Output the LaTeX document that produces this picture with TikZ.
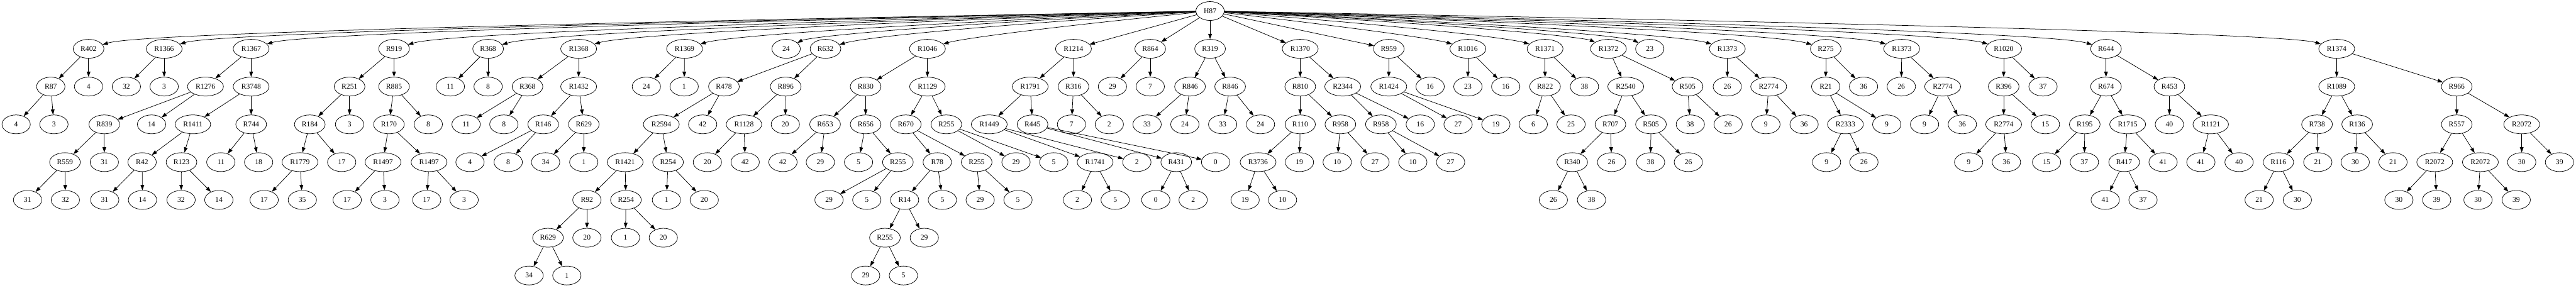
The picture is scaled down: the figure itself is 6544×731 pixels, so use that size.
\documentclass[tikz,border=0pt]{standalone}
\usepackage{fontspec}
\setmainfont{Liberation Serif}
\usepackage{tikz}
\usetikzlibrary{arrows.meta,shapes.geometric}

\begin{document}
\begin{tikzpicture}[x=0.75pt,y=-0.75pt,>={Triangle[length=10pt,width=7pt]}]
    \tikzstyle{rnode}=[ellipse,draw,line width=0.9pt,minimum width=54pt,minimum height=36pt,inner xsep=5.5pt,inner ysep=2pt,font=\fontsize{14pt}{16pt}\selectfont]  % 椭圆节点
    \tikzstyle{edge}=[->,line width=0.9pt]  % 连线
    \useasboundingbox (0,0) rectangle (6544,731);

    % 根
    \node[rnode](H87) at (3074,28){H87};
    % 第一层
    \node[rnode](R402) at (225,124){R402};
    \node[rnode](R1366) at (417,124){R1366};
    \node[rnode](R1367) at (638,124){R1367};
    \node[rnode](R919) at (1001,124){R919};
    \node[rnode](R368) at (1240,124){R368};
    \node[rnode](R1368) at (1470,124){R1368};
    \node[rnode](R1369) at (1739,124){R1369};
    \node[rnode](H87_24) at (1997,124){24};
    \node[rnode](R632) at (2097,124){R632};
    \node[rnode](R1046) at (2356,124){R1046};
    \node[rnode](R1214) at (2727,124){R1214};
    \node[rnode](R864) at (2922,124){R864};
    \node[rnode](R319) at (3074,124){R319};
    \node[rnode](R1370) at (3303,124){R1370};
    \node[rnode](R959) at (3528,124){R959};
    \node[rnode](R1016) at (3729,124){R1016};
    \node[rnode](R1371) at (3925,124){R1371};
    \node[rnode](R1372) at (4086,124){R1372};
    \node[rnode](H87_23) at (4191,124){23};
    \node[rnode](R1373a) at (4388,124){R1373};
    \node[rnode](R275) at (4638,124){R275};
    \node[rnode](R1373b) at (4831,124){R1373};
    \node[rnode](R1020) at (5090,124){R1020};
    \node[rnode](R644) at (5350,124){R644};
    \node[rnode](R1374) at (5936,124){R1374};
    % 第二层
    \node[rnode](R87) at (129,220){R87};
    \node[rnode](R402_4) at (225,220){4};
    \node[rnode](R1366_32) at (321,220){32};
    \node[rnode](R1366_3) at (417,220){3};
    \node[rnode](R1276) at (522,220){R1276};
    \node[rnode](R3748) at (638,220){R3748};
    \node[rnode](R251) at (888,220){R251};
    \node[rnode](R885) at (1001,220){R885};
    \node[rnode](R368_11) at (1144,220){11};
    \node[rnode](R368_8) at (1240,220){8};
    \node[rnode](R368b) at (1340,220){R368};
    \node[rnode](R1432) at (1470,220){R1432};
    \node[rnode](R1369_24) at (1642,220){24};
    \node[rnode](R1369_1) at (1738,220){1};
    \node[rnode](R478) at (1839,220){R478};
    \node[rnode](R896) at (1996,220){R896};
    \node[rnode](R830) at (2199,220){R830};
    \node[rnode](R1129) at (2356,220){R1129};
    \node[rnode](R1791) at (2617,220){R1791};
    \node[rnode](R316) at (2727,220){R316};
    \node[rnode](R864_29) at (2826,220){29};
    \node[rnode](R864_7) at (2922,220){7};
    \node[rnode](R846a) at (3023,220){R846};
    \node[rnode](R846b) at (3125,220){R846};
    \node[rnode](R810) at (3303,220){R810};
    \node[rnode](R2344) at (3411,220){R2344};
    \node[rnode](R1424) at (3528,220){R1424};
    \node[rnode](R959_16) at (3633,220){16};
    \node[rnode](R1016_23) at (3729,220){23};
    \node[rnode](R1016_16) at (3825,220){16};
    \node[rnode](R822) at (3925,220){R822};
    \node[rnode](R1371_38) at (4025,220){38};
    \node[rnode](R2540) at (4130,220){R2540};
    \node[rnode](R505a) at (4287,220){R505};
    \node[rnode](R1373a_26) at (4388,220){26};
    \node[rnode](R2774a) at (4493,220){R2774};
    \node[rnode](R21) at (4638,220){R21};
    \node[rnode](R275_36) at (4734,220){36};
    \node[rnode](R1373b_26) at (4830,220){26};
    \node[rnode](R2774b) at (4935,220){R2774};
    \node[rnode](R396) at (5090,220){R396};
    \node[rnode](R1020_37) at (5190,220){37};
    \node[rnode](R674) at (5350,220){R674};
    \node[rnode](R453) at (5511,220){R453};
    \node[rnode](R1089) at (5936,220){R1089};
    \node[rnode](R966) at (6241,220){R966};
    % 第三层
    \node[rnode](R87_4) at (41,316){4};
    \node[rnode](R87_3) at (137,316){3};
    \node[rnode](R839) at (265,316){R839};
    \node[rnode](R1276_14) at (385,316){14};
    \node[rnode](R1411) at (490,316){R1411};
    \node[rnode](R744) at (638,316){R744};
    \node[rnode](R184) at (787,316){R184};
    \node[rnode](R251_3) at (888,316){3};
    \node[rnode](R170) at (988,316){R170};
    \node[rnode](R885_8) at (1088,316){8};
    \node[rnode](R368b_11) at (1184,316){11};
    \node[rnode](R368b_8) at (1280,316){8};
    \node[rnode](R146) at (1380,316){R146};
    \node[rnode](R629a) at (1483,316){R629};
    \node[rnode](R2594) at (1680,316){R2594};
    \node[rnode](R478_42) at (1785,316){42};
    \node[rnode](R1128) at (1890,316){R1128};
    \node[rnode](R896_20) at (1995,316){20};
    \node[rnode](R653) at (2096,316){R653};
    \node[rnode](R656) at (2199,316){R656};
    \node[rnode](R670) at (2301,316){R670};
    \node[rnode](R255b) at (2404,316){R255};
    \node[rnode](R1449) at (2513,316){R1449};
    \node[rnode](R445) at (2623,316){R445};
    \node[rnode](R316_7) at (2722,316){7};
    \node[rnode](R316_2) at (2818,316){2};
    \node[rnode](R846a_33) at (2914,316){33};
    \node[rnode](R846a_24) at (3010,316){24};
    \node[rnode](R846b_33) at (3106,316){33};
    \node[rnode](R846b_24) at (3202,316){24};
    \node[rnode](R110) at (3303,316){R110};
    \node[rnode](R958a) at (3405,316){R958};
    \node[rnode](R958b) at (3508,316){R958};
    \node[rnode](R2344_16) at (3608,316){16};
    \node[rnode](R1424_27) at (3704,316){27};
    \node[rnode](R1424_19) at (3800,316){19};
    \node[rnode](R822_6) at (3895,316){6};
    \node[rnode](R822_25) at (3991,316){25};
    \node[rnode](R707) at (4091,316){R707};
    \node[rnode](R505b) at (4194,316){R505};
    \node[rnode](R505a_38) at (4294,316){38};
    \node[rnode](R505a_26) at (4390,316){26};
    \node[rnode](R2774a_9) at (4486,316){9};
    \node[rnode](R2774a_36) at (4583,316){36};
    \node[rnode](R2333) at (4688,316){R2333};
    \node[rnode](R21_9) at (4793,316){9};
    \node[rnode](R2774b_9) at (4889,316){9};
    \node[rnode](R2774b_36) at (4985,316){36};
    \node[rnode](R2774c) at (5090,316){R2774};
    \node[rnode](R396_15) at (5196,316){15};
    \node[rnode](R195) at (5296,316){R195};
    \node[rnode](R1715) at (5405,316){R1715};
    \node[rnode](R453_40) at (5511,316){40};
    \node[rnode](R1121) at (5616,316){R1121};
    \node[rnode](R738) at (5886,316){R738};
    \node[rnode](R136) at (5988,316){R136};
    \node[rnode](R557) at (6241,316){R557};
    \node[rnode](R2072a) at (6406,316){R2072};
    % 第四层
    \node[rnode](R559) at (165,412){R559};
    \node[rnode](R839_31) at (265,412){31};
    \node[rnode](R42) at (361,412){R42};
    \node[rnode](R123) at (461,412){R123};
    \node[rnode](R744_11) at (561,412){11};
    \node[rnode](R744_18) at (657,412){18};
    \node[rnode](R1779) at (762,412){R1779};
    \node[rnode](R184_17) at (868,412){17};
    \node[rnode](R1497a) at (973,412){R1497};
    \node[rnode](R1497b) at (1090,412){R1497};
    \node[rnode](R146_4) at (1194,412){4};
    \node[rnode](R146_8) at (1291,412){8};
    \node[rnode](R629a_34) at (1386,412){34};
    \node[rnode](R629a_1) at (1483,412){1};
    \node[rnode](R1421) at (1588,412){R1421};
    \node[rnode](R254b) at (1697,412){R254};
    \node[rnode](R1128_20) at (1797,412){20};
    \node[rnode](R1128_42) at (1893,412){42};
    \node[rnode](R653_42) at (1989,412){42};
    \node[rnode](R653_29) at (2084,412){29};
    \node[rnode](R656_5) at (2181,412){5};
    \node[rnode](R255a) at (2281,412){R255};
    \node[rnode](R78) at (2381,412){R78};
    \node[rnode](R255c) at (2481,412){R255};
    \node[rnode](R255b_29) at (2581,412){29};
    \node[rnode](R255b_5) at (2677,412){5};
    \node[rnode](R1741) at (2782,412){R1741};
    \node[rnode](R1449_2) at (2888,412){2};
    \node[rnode](R431) at (2988,412){R431};
    \node[rnode](R445_0) at (3088,412){0};
    \node[rnode](R3736) at (3196,412){R3736};
    \node[rnode](R110_19) at (3301,412){19};
    \node[rnode](R958a_10) at (3397,412){10};
    \node[rnode](R958a_27) at (3493,412){27};
    \node[rnode](R958b_10) at (3589,412){10};
    \node[rnode](R958b_27) at (3685,412){27};
    \node[rnode](R340) at (3994,412){R340};
    \node[rnode](R707_26) at (4094,412){26};
    \node[rnode](R505b_38) at (4193,412){38};
    \node[rnode](R505b_26) at (4289,412){26};
    \node[rnode](R2333_9) at (4640,412){9};
    \node[rnode](R2333_26) at (4735,412){26};
    \node[rnode](R2774c_9) at (5001,412){9};
    \node[rnode](R2774c_36) at (5097,412){36};
    \node[rnode](R195_15) at (5199,412){15};
    \node[rnode](R195_37) at (5295,412){37};
    \node[rnode](R417) at (5396,412){R417};
    \node[rnode](R1715_41) at (5495,412){41};
    \node[rnode](R1121_41) at (5591,412){41};
    \node[rnode](R1121_40) at (5688,412){40};
    \node[rnode](R116) at (5788,412){R116};
    \node[rnode](R738_21) at (5888,412){21};
    \node[rnode](R136_30) at (5983,412){30};
    \node[rnode](R136_21) at (6079,412){21};
    \node[rnode](R2072b) at (6185,412){R2072};
    \node[rnode](R2072c) at (6301,412){R2072};
    \node[rnode](R2072a_30) at (6406,412){30};
    \node[rnode](R2072a_39) at (6502,412){39};
    % 第五层
    \node[rnode](R559_31) at (70,508){31};
    \node[rnode](R559_32) at (166,508){32};
    \node[rnode](R42_31) at (266,508){31};
    \node[rnode](R42_14) at (362,508){14};
    \node[rnode](R123_32) at (460,508){32};
    \node[rnode](R123_14) at (556,508){14};
    \node[rnode](R1779_17) at (671,508){17};
    \node[rnode](R1779_35) at (768,508){35};
    \node[rnode](R1497a_17) at (882,508){17};
    \node[rnode](R1497a_3) at (978,508){3};
    \node[rnode](R1497b_17) at (1084,508){17};
    \node[rnode](R1497b_3) at (1179,508){3};
    \node[rnode](R92) at (1491,508){R92};
    \node[rnode](R254a) at (1590,508){R254};
    \node[rnode](R254b_1) at (1693,508){1};
    \node[rnode](R254b_20) at (1789,508){20};
    \node[rnode](R255a_29) at (2106,508){29};
    \node[rnode](R255a_5) at (2202,508){5};
    \node[rnode](R14) at (2298,508){R14};
    \node[rnode](R78_5) at (2394,508){5};
    \node[rnode](R255c_29) at (2490,508){29};
    \node[rnode](R255c_5) at (2586,508){5};
    \node[rnode](R1741_2) at (2737,508){2};
    \node[rnode](R1741_5) at (2833,508){5};
    \node[rnode](R431_0) at (2936,508){0};
    \node[rnode](R431_2) at (3031,508){2};
    \node[rnode](R3736_19) at (3163,508){19};
    \node[rnode](R3736_10) at (3258,508){10};
    \node[rnode](R340_26) at (3946,508){26};
    \node[rnode](R340_38) at (4043,508){38};
    \node[rnode](R417_41) at (5348,508){41};
    \node[rnode](R417_37) at (5444,508){37};
    \node[rnode](R116_21) at (5739,508){21};
    \node[rnode](R116_30) at (5836,508){30};
    \node[rnode](R2072b_30) at (6094,508){30};
    \node[rnode](R2072b_39) at (6190,508){39};
    \node[rnode](R2072c_30) at (6295,508){30};
    \node[rnode](R2072c_39) at (6392,508){39};
    % 第六层
    \node[rnode](R629b) at (1392,604){R629};
    \node[rnode](R92_20) at (1491,604){20};
    \node[rnode](R254a_1) at (1589,604){1};
    \node[rnode](R254a_20) at (1685,604){20};
    \node[rnode](R255d) at (2248,604){R255};
    \node[rnode](R14_29) at (2348,604){29};
    % 第七层
    \node[rnode](R629b_34) at (1344,700){34};
    \node[rnode](R629b_1) at (1440,700){1};
    \node[rnode](R255d_29) at (2199,700){29};
    \node[rnode](R255d_5) at (2295,700){5};

    % 开始画线,根的远处子节点用曲线
    \draw[edge](H87) .. controls (475,75) and (305,100) .. (R402);
    \draw[edge](H87) .. controls (667,75) and (497,100) .. (R1366);
    \draw[edge](H87) .. controls (888,75) and (718,100) .. (R1367);
    \draw[edge](H87) .. controls (1251,75) and (1081,100) .. (R919);
    \draw[edge](H87) .. controls (1490,75) and (1320,100) .. (R368);
    \draw[edge](H87) .. controls (1720,75) and (1550,100) .. (R1368);
    \draw[edge](H87) .. controls (1989,75) and (1819,100) .. (R1369);
    \draw[edge](H87) .. controls (2147,75) and (2042,100) .. (H87_24);
    \draw[edge](H87) .. controls (2347,75) and (2177,100) .. (R632);
    \draw[edge](H87) .. controls (2606,75) and (2436,100) .. (R1046);
    \draw[edge](H87)--(R1214);
    \draw[edge](H87)--(R864);
    \draw[edge](H87)--(R319);
    \draw[edge](H87)--(R1370);
    \draw[edge](H87)--(R959);
    \draw[edge](H87) .. controls (3479,75) and (3649,100) .. (R1016);
    \draw[edge](H87) .. controls (3675,75) and (3845,100) .. (R1371);
    \draw[edge](H87) .. controls (3906,75) and (4036,100) .. (R1372);
    \draw[edge](H87) .. controls (4041,75) and (4146,100) .. (H87_23);
    \draw[edge](H87) .. controls (4138,75) and (4308,100) .. (R1373a);
    \draw[edge](H87) .. controls (4388,75) and (4558,100) .. (R275);
    \draw[edge](H87) .. controls (4581,75) and (4751,100) .. (R1373b);
    \draw[edge](H87) .. controls (4840,75) and (5010,100) .. (R1020);
    \draw[edge](H87) .. controls (5100,75) and (5270,100) .. (R644);
    \draw[edge](H87) .. controls (5686,75) and (5856,100) .. (R1374);
    \draw[edge](R402)--(R87);
    \draw[edge](R402)--(R402_4);
    \draw[edge](R87)--(R87_4);
    \draw[edge](R87)--(R87_3);
    \draw[edge](R1366)--(R1366_32);
    \draw[edge](R1366)--(R1366_3);
    \draw[edge](R1367)--(R1276);
    \draw[edge](R1367)--(R3748);
    \draw[edge](R1276)--(R839);
    \draw[edge](R1276)--(R1276_14);
    \draw[edge](R839)--(R559);
    \draw[edge](R839)--(R839_31);
    \draw[edge](R559)--(R559_31);
    \draw[edge](R559)--(R559_32);
    \draw[edge](R3748)--(R1411);
    \draw[edge](R3748)--(R744);
    \draw[edge](R1411)--(R42);
    \draw[edge](R1411)--(R123);
    \draw[edge](R42)--(R42_31);
    \draw[edge](R42)--(R42_14);
    \draw[edge](R123)--(R123_32);
    \draw[edge](R123)--(R123_14);
    \draw[edge](R744)--(R744_11);
    \draw[edge](R744)--(R744_18);
    \draw[edge](R919)--(R251);
    \draw[edge](R919)--(R885);
    \draw[edge](R251)--(R184);
    \draw[edge](R251)--(R251_3);
    \draw[edge](R184)--(R1779);
    \draw[edge](R184)--(R184_17);
    \draw[edge](R1779)--(R1779_17);
    \draw[edge](R1779)--(R1779_35);
    \draw[edge](R885)--(R170);
    \draw[edge](R885)--(R885_8);
    \draw[edge](R170)--(R1497a);
    \draw[edge](R170)--(R1497b);
    \draw[edge](R1497a)--(R1497a_17);
    \draw[edge](R1497a)--(R1497a_3);
    \draw[edge](R1497b)--(R1497b_17);
    \draw[edge](R1497b)--(R1497b_3);
    \draw[edge](R368)--(R368_11);
    \draw[edge](R368)--(R368_8);
    \draw[edge](R1368)--(R368b);
    \draw[edge](R1368)--(R1432);
    \draw[edge](R368b)--(R368b_11);
    \draw[edge](R368b)--(R368b_8);
    \draw[edge](R1432)--(R146);
    \draw[edge](R1432)--(R629a);
    \draw[edge](R146)--(R146_4);
    \draw[edge](R146)--(R146_8);
    \draw[edge](R629a)--(R629a_34);
    \draw[edge](R629a)--(R629a_1);
    \draw[edge](R1369)--(R1369_24);
    \draw[edge](R1369)--(R1369_1);
    \draw[edge](R632)--(R478);
    \draw[edge](R632)--(R896);
    \draw[edge](R478)--(R2594);
    \draw[edge](R478)--(R478_42);
    \draw[edge](R2594)--(R1421);
    \draw[edge](R2594)--(R254b);
    \draw[edge](R1421)--(R92);
    \draw[edge](R1421)--(R254a);
    \draw[edge](R92)--(R629b);
    \draw[edge](R92)--(R92_20);
    \draw[edge](R629b)--(R629b_34);
    \draw[edge](R629b)--(R629b_1);
    \draw[edge](R254a)--(R254a_1);
    \draw[edge](R254a)--(R254a_20);
    \draw[edge](R254b)--(R254b_1);
    \draw[edge](R254b)--(R254b_20);
    \draw[edge](R896)--(R1128);
    \draw[edge](R896)--(R896_20);
    \draw[edge](R1128)--(R1128_20);
    \draw[edge](R1128)--(R1128_42);
    \draw[edge](R1046)--(R830);
    \draw[edge](R1046)--(R1129);
    \draw[edge](R830)--(R653);
    \draw[edge](R830)--(R656);
    \draw[edge](R653)--(R653_42);
    \draw[edge](R653)--(R653_29);
    \draw[edge](R656)--(R656_5);
    \draw[edge](R656)--(R255a);
    \draw[edge](R255a)--(R255a_29);
    \draw[edge](R255a)--(R255a_5);
    \draw[edge](R1129)--(R670);
    \draw[edge](R1129)--(R255b);
    \draw[edge](R670)--(R78);
    \draw[edge](R670)--(R255c);
    \draw[edge](R78)--(R14);
    \draw[edge](R78)--(R78_5);
    \draw[edge](R14)--(R255d);
    \draw[edge](R14)--(R14_29);
    \draw[edge](R255d)--(R255d_29);
    \draw[edge](R255d)--(R255d_5);
    \draw[edge](R255c)--(R255c_29);
    \draw[edge](R255c)--(R255c_5);
    \draw[edge](R255b)--(R255b_29);
    \draw[edge](R255b)--(R255b_5);
    \draw[edge](R1214)--(R1791);
    \draw[edge](R1214)--(R316);
    \draw[edge](R1791)--(R1449);
    \draw[edge](R1791)--(R445);
    \draw[edge](R1449)--(R1741);
    \draw[edge](R1449)--(R1449_2);
    \draw[edge](R1741)--(R1741_2);
    \draw[edge](R1741)--(R1741_5);
    \draw[edge](R445)--(R431);
    \draw[edge](R445)--(R445_0);
    \draw[edge](R431)--(R431_0);
    \draw[edge](R431)--(R431_2);
    \draw[edge](R316)--(R316_7);
    \draw[edge](R316)--(R316_2);
    \draw[edge](R864)--(R864_29);
    \draw[edge](R864)--(R864_7);
    \draw[edge](R319)--(R846a);
    \draw[edge](R319)--(R846b);
    \draw[edge](R846a)--(R846a_33);
    \draw[edge](R846a)--(R846a_24);
    \draw[edge](R846b)--(R846b_33);
    \draw[edge](R846b)--(R846b_24);
    \draw[edge](R1370)--(R810);
    \draw[edge](R1370)--(R2344);
    \draw[edge](R810)--(R110);
    \draw[edge](R810)--(R958a);
    \draw[edge](R110)--(R3736);
    \draw[edge](R110)--(R110_19);
    \draw[edge](R3736)--(R3736_19);
    \draw[edge](R3736)--(R3736_10);
    \draw[edge](R958a)--(R958a_10);
    \draw[edge](R958a)--(R958a_27);
    \draw[edge](R2344)--(R958b);
    \draw[edge](R2344)--(R2344_16);
    \draw[edge](R958b)--(R958b_10);
    \draw[edge](R958b)--(R958b_27);
    \draw[edge](R959)--(R1424);
    \draw[edge](R959)--(R959_16);
    \draw[edge](R1424)--(R1424_27);
    \draw[edge](R1424)--(R1424_19);
    \draw[edge](R1016)--(R1016_23);
    \draw[edge](R1016)--(R1016_16);
    \draw[edge](R1371)--(R822);
    \draw[edge](R1371)--(R1371_38);
    \draw[edge](R822)--(R822_6);
    \draw[edge](R822)--(R822_25);
    \draw[edge](R1372)--(R2540);
    \draw[edge](R1372)--(R505a);
    \draw[edge](R2540)--(R707);
    \draw[edge](R2540)--(R505b);
    \draw[edge](R707)--(R340);
    \draw[edge](R707)--(R707_26);
    \draw[edge](R340)--(R340_26);
    \draw[edge](R340)--(R340_38);
    \draw[edge](R505b)--(R505b_38);
    \draw[edge](R505b)--(R505b_26);
    \draw[edge](R505a)--(R505a_38);
    \draw[edge](R505a)--(R505a_26);
    \draw[edge](R1373a)--(R1373a_26);
    \draw[edge](R1373a)--(R2774a);
    \draw[edge](R2774a)--(R2774a_9);
    \draw[edge](R2774a)--(R2774a_36);
    \draw[edge](R275)--(R21);
    \draw[edge](R275)--(R275_36);
    \draw[edge](R21)--(R2333);
    \draw[edge](R21)--(R21_9);
    \draw[edge](R2333)--(R2333_9);
    \draw[edge](R2333)--(R2333_26);
    \draw[edge](R1373b)--(R1373b_26);
    \draw[edge](R1373b)--(R2774b);
    \draw[edge](R2774b)--(R2774b_9);
    \draw[edge](R2774b)--(R2774b_36);
    \draw[edge](R1020)--(R396);
    \draw[edge](R1020)--(R1020_37);
    \draw[edge](R396)--(R2774c);
    \draw[edge](R396)--(R396_15);
    \draw[edge](R2774c)--(R2774c_9);
    \draw[edge](R2774c)--(R2774c_36);
    \draw[edge](R644)--(R674);
    \draw[edge](R644)--(R453);
    \draw[edge](R674)--(R195);
    \draw[edge](R674)--(R1715);
    \draw[edge](R195)--(R195_15);
    \draw[edge](R195)--(R195_37);
    \draw[edge](R1715)--(R417);
    \draw[edge](R1715)--(R1715_41);
    \draw[edge](R417)--(R417_41);
    \draw[edge](R417)--(R417_37);
    \draw[edge](R453)--(R453_40);
    \draw[edge](R453)--(R1121);
    \draw[edge](R1121)--(R1121_41);
    \draw[edge](R1121)--(R1121_40);
    \draw[edge](R1374)--(R1089);
    \draw[edge](R1374)--(R966);
    \draw[edge](R1089)--(R738);
    \draw[edge](R1089)--(R136);
    \draw[edge](R738)--(R116);
    \draw[edge](R738)--(R738_21);
    \draw[edge](R116)--(R116_21);
    \draw[edge](R116)--(R116_30);
    \draw[edge](R136)--(R136_30);
    \draw[edge](R136)--(R136_21);
    \draw[edge](R966)--(R557);
    \draw[edge](R966)--(R2072a);
    \draw[edge](R557)--(R2072b);
    \draw[edge](R557)--(R2072c);
    \draw[edge](R2072b)--(R2072b_30);
    \draw[edge](R2072b)--(R2072b_39);
    \draw[edge](R2072c)--(R2072c_30);
    \draw[edge](R2072c)--(R2072c_39);
    \draw[edge](R2072a)--(R2072a_30);
    \draw[edge](R2072a)--(R2072a_39);
\end{tikzpicture}
\end{document}
